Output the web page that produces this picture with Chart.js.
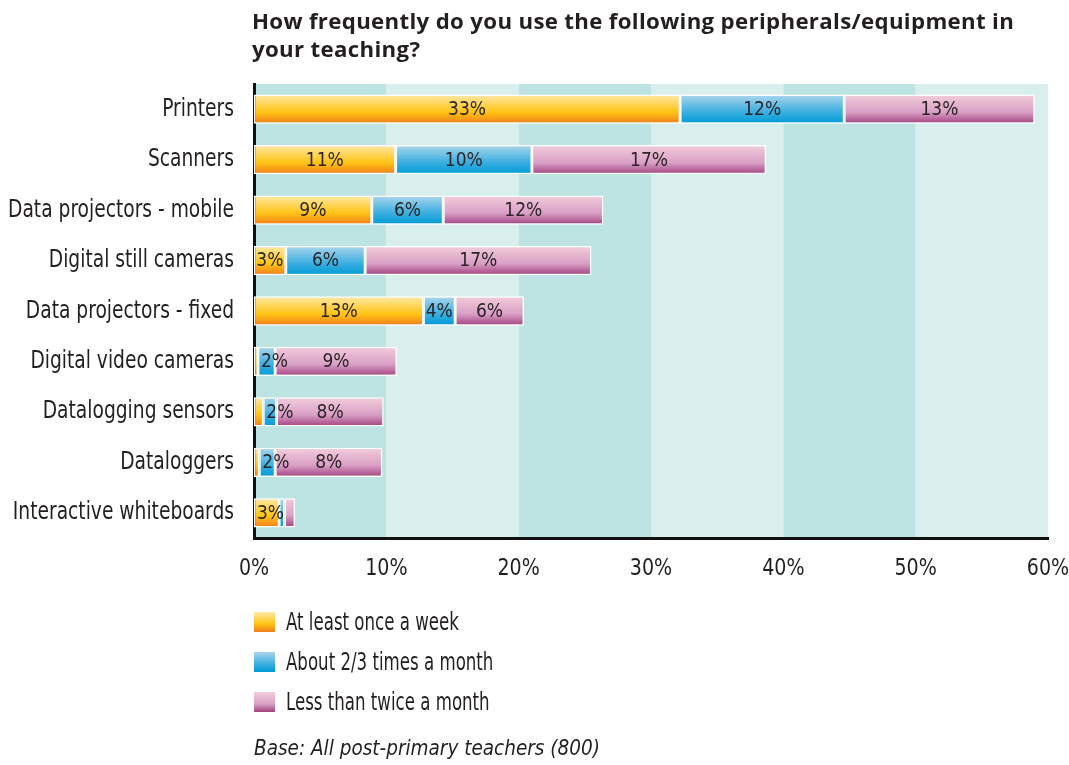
<!DOCTYPE html>
<html>
<head>
<meta charset="utf-8">
<script src="https://cdn.jsdelivr.net/npm/chart.js@4/dist/chart.umd.min.js"></script>
<style>
  html, body { margin: 0; padding: 0; background: #fff; }
  #wrap { position: relative; width: 1069px; height: 765px; overflow: hidden; }
  #c { position: absolute; left: 0; top: 0; }
  .cond { font-family: "DejaVu Sans Condensed", "DejaVu Sans", sans-serif; color: #231f20; }
  #title { position: absolute; left: 252px; top: 7px; font-family: "Open Sans", "Liberation Sans", sans-serif; font-weight: 700; font-size: 21px; letter-spacing: 0.3px; line-height: 28px; color: #231f20; white-space: nowrap; transform: scaleX(1.06); transform-origin: left top; }
  .leg { position: absolute; left: 254px; height: 24px; display: flex; align-items: center; white-space: nowrap; }
  .sw { width: 21px; height: 20px; margin-right: 11px; flex: none; }
  .lt { font-size: 24px; display: inline-block; transform: scaleX(0.77); transform-origin: left center; }
  #foot { position: absolute; left: 254px; top: 736px; font-size: 20.5px; font-style: italic; white-space: nowrap; }
</style>
</head>
<body>
<div id="wrap">
  <canvas id="c" width="1069" height="765"></canvas>
  <div id="title">How frequently do you use the following peripherals/equipment in<br>your teaching?</div>
  <div id="legend"></div>
  <div id="foot" class="cond">Base: All post-primary teachers (800)</div>
</div>
<script>
const categories = ['Printers','Scanners','Data projectors - mobile','Digital still cameras','Data projectors - fixed','Digital video cameras','Datalogging sensors','Dataloggers','Interactive whiteboards'];
const seriesNames = ['At least once a week','About 2/3 times a month','Less than twice a month'];
const weekly  = [32.2, 10.7, 8.9, 2.4, 12.8, 0.3, 0.7, 0.4, 1.9];
const monthly = [12.4, 10.3, 5.4, 6.0, 2.4, 1.3, 1.0, 1.2, 0.4];
const rarely  = [14.4, 17.7, 12.1, 17.1, 5.2, 9.2, 8.1, 8.1, 0.8];
const weeklyLabels  = ['33%','11%','9%','3%','13%','','','','3%'];
const monthlyLabels = ['12%','10%','6%','6%','4%','2%','2%','2%',''];
const rarelyLabels  = ['13%','17%','12%','17%','6%','9%','8%','8%',''];
const xTicks = [0,10,20,30,40,50,60];

const gradStops = [
  ['#ffe9a8','#ffc414','#f07c1c'],
  ['#acd6ec','#3aaee0','#009ad6'],
  ['#f3cddb','#d9a0c6','#a2407f']
];
const FONT = '"DejaVu Sans Condensed", "DejaVu Sans", sans-serif';
const BAR_PCT = 0.58;

function makeBg(si) {
  return function(ctx) {
    const chart = ctx.chart;
    const stops = gradStops[si];
    if (ctx.type !== 'data' || !chart.chartArea || !chart.scales.y) return stops[1];
    const y = chart.scales.y.getPixelForValue(ctx.dataIndex);
    const h = (chart.chartArea.height / categories.length) * BAR_PCT;
    const g = chart.ctx.createLinearGradient(0, y - h/2, 0, y + h/2);
    g.addColorStop(0, stops[0]);
    g.addColorStop(0.6, stops[1]);
    g.addColorStop(1, stops[2]);
    return g;
  };
}

// horizontally condense a scale's tick labels (narrow typeface look)
function condense(scale, s) {
  if (scale._condensed) return;
  scale._condensed = true;
  const origItems = scale.getLabelItems.bind(scale);
  const origDraw = scale.drawLabels.bind(scale);
  scale.drawLabels = function(area) {
    const ctx = this.ctx;
    this.getLabelItems = function(a) {
      return origItems(a).map(it => Object.assign({}, it, {
        options: Object.assign({}, it.options, {
          translation: [it.options.translation[0] / s, it.options.translation[1]]
        })
      }));
    };
    this._computeLabelArea = function() { return undefined; };
    ctx.save();
    ctx.scale(s, 1);
    origDraw(area);
    ctx.restore();
    delete this.getLabelItems;
    delete this._computeLabelArea;
  };
}

const bandPlugin = {
  id: 'bands',
  beforeDraw(chart) {
    condense(chart.scales.y, 0.83);
    condense(chart.scales.x, 0.92);
    const {ctx, chartArea: a, scales: {x}} = chart;
    ctx.save();
    for (let i = 0; i < xTicks.length - 1; i++) {
      const x0 = x.getPixelForValue(xTicks[i]);
      const x1 = x.getPixelForValue(xTicks[i+1]);
      ctx.fillStyle = (i % 2 === 0) ? '#bde3e2' : '#d9efed';
      ctx.fillRect(x0, a.top, x1 - x0, a.bottom - a.top);
    }
    ctx.restore();
  }
};

const allLabels = [weeklyLabels, monthlyLabels, rarelyLabels];
const labelPlugin = {
  id: 'segLabels',
  afterDatasetsDraw(chart) {
    const ctx = chart.ctx;
    ctx.save();
    ctx.font = '19px ' + FONT;
    ctx.fillStyle = '#2b2527';
    ctx.textBaseline = 'middle';
    chart.data.datasets.forEach((ds, di) => {
      const meta = chart.getDatasetMeta(di);
      meta.data.forEach((el, i) => {
        const t = allLabels[di][i];
        if (!t) return;
        const left = Math.min(el.x, el.base), right = Math.max(el.x, el.base);
        const w = ctx.measureText(t).width;
        if (w > right - left - 2) {
          ctx.textAlign = 'left';
          ctx.fillText(t, left + 3, el.y + 1);
        } else {
          ctx.textAlign = 'center';
          ctx.fillText(t, (left + right) / 2, el.y + 1);
        }
      });
    });
    ctx.restore();
  }
};

const series = [weekly, monthly, rarely];
new Chart(document.getElementById('c'), {
  type: 'bar',
  data: {
    labels: categories,
    datasets: series.map((d, si) => ({
      label: seriesNames[si],
      data: d,
      backgroundColor: makeBg(si),
      borderColor: '#ffffff',
      borderWidth: 1.5,
      borderSkipped: false,
      barPercentage: BAR_PCT,
      categoryPercentage: 1.0
    }))
  },
  options: {
    indexAxis: 'y',
    responsive: false,
    animation: false,
    layout: { padding: { left: 0, right: 0, top: 84, bottom: 177 } },
    plugins: { legend: { display: false }, tooltip: { enabled: false }, title: { display: false } },
    scales: {
      x: {
        stacked: true, min: 0, max: 60,
        afterBuildTicks(s) { s.ticks = xTicks.map(v => ({value: v})); },
        grid: { display: false, drawTicks: false },
        border: { display: true, color: '#111', width: 3 },
        ticks: { padding: 17, color: '#231f20', font: { family: FONT, size: 23 }, callback: v => v + '%', maxRotation: 0 },
        afterFit(s) { s.height = 50; s.paddingRight = 21; s.paddingLeft = 0; }
      },
      y: {
        stacked: true,
        grid: { display: false, drawTicks: false },
        border: { display: true, color: '#111', width: 3 },
        ticks: { padding: 20, color: '#231f20', font: { family: FONT, size: 25 } },
        afterFit(s) { s.width = 254; }
      }
    }
  },
  plugins: [bandPlugin, labelPlugin]
});

const legend = document.getElementById('legend');
seriesNames.forEach((n, i) => {
  const d = document.createElement('div');
  d.className = 'leg cond';
  d.style.top = (610 + i * 40) + 'px';
  const sw = document.createElement('div');
  sw.className = 'sw';
  sw.style.background = 'linear-gradient(to bottom,' + gradStops[i][0] + ',' + gradStops[i][1] + ' 60%,' + gradStops[i][2] + ')';
  d.appendChild(sw);
  const s = document.createElement('span');
  s.className = 'lt';
  s.textContent = n;
  d.appendChild(s);
  legend.appendChild(d);
});
</script>
</body>
</html>
